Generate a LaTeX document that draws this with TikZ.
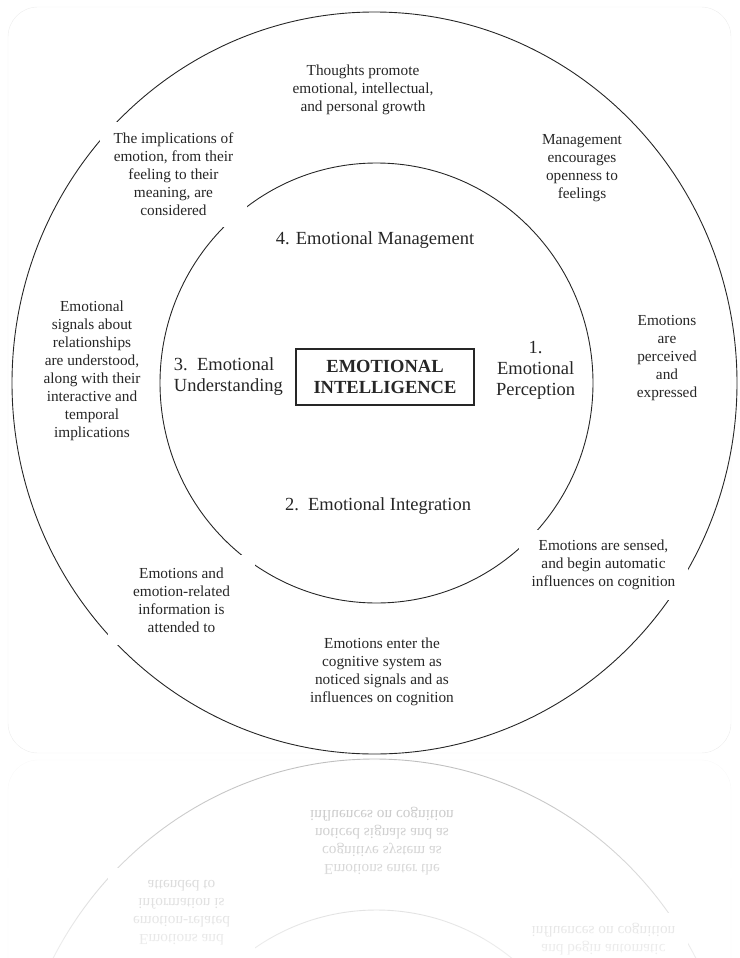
\documentclass[tikz,border=0pt]{standalone}
\usepackage{fontspec}
\setmainfont{Liberation Serif}
\usepackage{tikz}
\usetikzlibrary{positioning}
\colorlet{ink}{black!85}
\tikzstyle{ring}=[draw=ink,line width=0.9pt]
\tikzstyle{note}=[fill=white,text=ink,align=center,inner sep=0pt,font=\fontsize{15.3}{18}\selectfont]
\tikzstyle{branch}=[text=ink,align=left,font=\fontsize{18.5}{21}\selectfont]
\tikzstyle{core}=[draw=ink,line width=1.1pt,text=ink,align=center,minimum width=178pt,minimum height=56pt,font=\bfseries\fontsize{18.5}{21}\selectfont]

% lower half of the wheel, drawn once and once more as the reflection
\newcommand{\eibase}{%
\draw[ink!9,rounded corners=30pt] (8,7) rectangle (731,753);
\draw[ring] (374.5,383) ellipse [x radius=362.5pt, y radius=371pt];
\draw[ring] (376.5,383) ellipse [x radius=216.5pt, y radius=220pt];
\node (sensed) [note,minimum width=169pt,minimum height=70pt] at (603.5,565) {Emotions are sensed,\\and begin automatic\\influences on cognition};
\node (attended) [note,minimum width=147pt,minimum height=90pt] at (181.5,600) {Emotions and\\emotion-related\\information is\\attended to};
\node (entering) [note] at (382,671.5) {Emotions enter the\\cognitive system as\\noticed signals and as\\influences on cognition};
}

\begin{document}
\begin{tikzpicture}[x=1pt,y=-1pt]
\useasboundingbox (0,0) rectangle (739,958);
\eibase
\node (growth) [note] at (363,90) {Thoughts promote\\emotional, intellectual,\\and personal growth};
\node (meaning) [note,minimum width=147pt,minimum height=105pt] at (173.5,174.5) {The implications of\\emotion, from their\\feeling to their\\meaning, are\\considered};
\node (openness) [note] at (582,168.5) {Management\\encourages\\openness to\\feelings};
\node (signals) [note] at (92,371) {Emotional\\signals about\\relationships\\are understood,\\along with their\\interactive and\\temporal\\implications};
\node (expressed) [note] at (667,358.5) {Emotions\\are\\perceived\\and\\expressed};
\node (ei) [core] at (385,377) {EMOTIONAL\\INTELLIGENCE};
\node (understanding) [branch,left=9pt of ei] {3.~~Emotional\\Understanding};
\node (perception) [branch,align=center,right=18pt of ei,yshift=7pt] {1.\\Emotional\\Perception};
\node (management) [branch] at (375,240) {4. Emotional Management};
\node (integration) [branch] at (378,506) {2.~~Emotional Integration};

% mirrored copy below, fading out
\begin{scope}
\clip (0,756.5) rectangle (739,958);
\begin{scope}[shift={(0,1513)},yscale=-1,transform shape]
\colorlet{ink}{black!25}
\eibase
\end{scope}
\foreach \i in {0,...,19}
  \fill[white,opacity=\i/26] (0,{757+\i*10.1}) rectangle (739,{757+(\i+1)*10.1});
\end{scope}
\end{tikzpicture}
\end{document}
